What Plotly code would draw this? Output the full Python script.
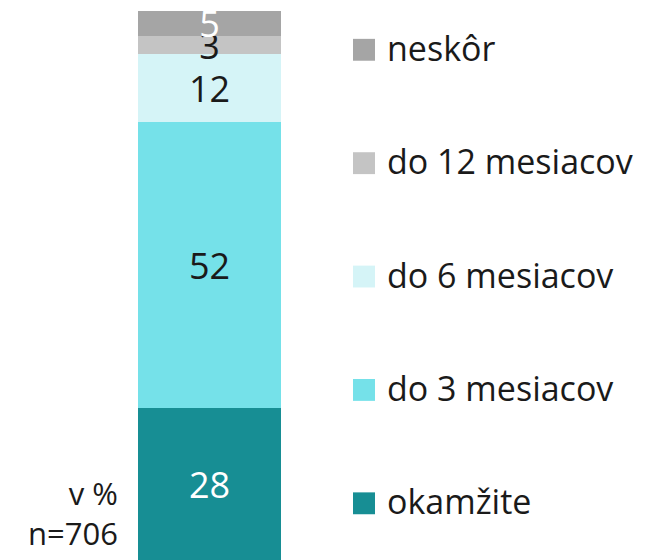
import plotly.graph_objects as go

categories = ["okamžite", "do 3 mesiacov", "do 6 mesiacov", "do 12 mesiacov", "neskôr"]
values = [27.6, 52.1, 12.4, 3.3, 4.6]
colors = ["#178e94", "#75e1e9", "#d5f4f7", "#c4c4c4", "#a5a5a5"]
text_colors = ["white", "#1a1a1a", "#1a1a1a", "#1a1a1a", "white"]
note = "v %<br>n=706"

FONT = "Open Sans"
# the page body has an 8px margin, so the figure is drawn 8px in from the window edge
OFF = 8
W, H = 654 - OFF, 560 - OFF


def px_x(x):
    return (x - OFF) / W


def px_y(y):
    return 1 - (y - OFF) / H


fig = go.Figure()
for name, val, col, tcol in zip(categories, values, colors, text_colors):
    fig.add_trace(go.Bar(
        x=[0],
        y=[val],
        name=name,
        marker=dict(color=col, line=dict(width=0)),
        texttemplate="%{y:.0f}",
        textposition="inside",
        insidetextanchor="middle",
        textangle=0,
        textfont=dict(color=tcol, size=36, family=FONT),
        showlegend=False,
        hoverinfo="skip",
    ))

# custom legend: larger squares than plotly's built-in legend allows
for i, (name, col) in enumerate(zip(categories, colors)):
    yc = 503 - i * 114
    fig.add_shape(
        type="rect", xref="paper", yref="paper",
        x0=px_x(353), x1=px_x(375),
        y0=px_y(yc + 11), y1=px_y(yc - 11),
        fillcolor=col, line=dict(width=0),
    )
    fig.add_annotation(
        text=name, xref="paper", yref="paper",
        x=px_x(385), y=px_y(yc - 2),
        xanchor="left", yanchor="middle", showarrow=False,
        font=dict(size=34, color="#1a1a1a", family=FONT),
    )

fig.add_annotation(
    text=note, xref="paper", yref="paper",
    x=px_x(120), y=px_y(556),
    xanchor="right", yanchor="bottom", align="right", showarrow=False,
    font=dict(size=31, color="#1a1a1a", family=FONT),
)

fig.update_layout(
    width=W,
    height=H,
    barmode="stack",
    bargap=0,
    margin=dict(l=0, r=0, t=11 - OFF, b=0),
    paper_bgcolor="white",
    plot_bgcolor="white",
    uniformtext=dict(minsize=30, mode="show"),
    xaxis=dict(domain=[px_x(138), px_x(281)], range=[-0.5, 0.5], visible=False),
    yaxis=dict(range=[0, 100], visible=False),
    font=dict(family=FONT),
)

fig.write_html("out.html")
